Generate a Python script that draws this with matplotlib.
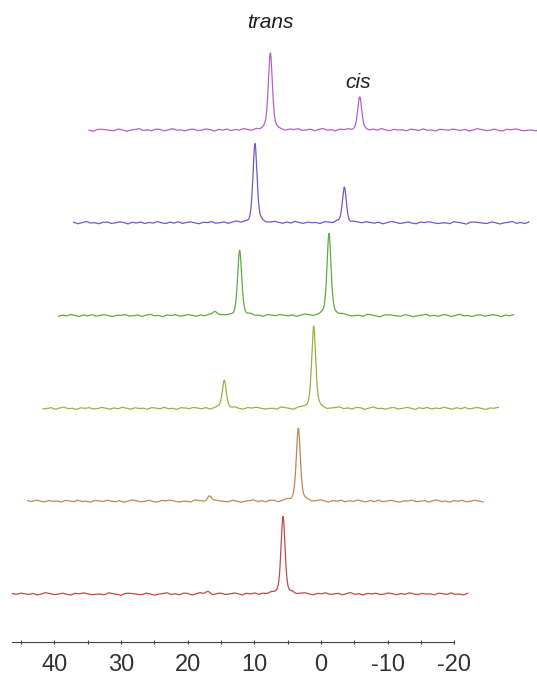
import numpy as np
import matplotlib.pyplot as plt
from matplotlib.ticker import FixedLocator

plt.rcParams['font.family'] = ['Liberation Sans', 'DejaVu Sans']
plt.rcParams['axes.unicode_minus'] = False

# peak positions (ppm) in each spectrum's own scale
trans_ppm = 19.1
cis_ppm = 5.7
# relative peak heights, bottom spectrum first
cis_height = [0.93, 0.89, 1.00, 1.00, 0.43, 0.39]
trans_height = [0.00, 0.07, 0.34, 0.78, 0.95, 0.93]
# small extra bumps
minor_ppm = [17.0, 17.0, 17.0, 22.8, 22.8, 22.8]
minor_height = [0.03, 0.00, 0.00, 0.05, 0.00, 0.00]
colors = ['#bf4a4f', '#b98a55', '#a2ae3c', '#63a843', '#7656c6', '#b360cc']

# baseline ripple (px-ish units)
ripple = [0.4, -0.3, 0.9, 0.2, -0.5, 0.6, -1.1, 0.1, 1.3, 0.5,
          -0.7, -0.2, 0.9, -0.4, -1.0, 0.7, 0.2, 1.1, 0.3, -0.8,
          -0.2, 0.0, -0.9, 1.2, 0.5, -0.3, -1.3, 0.6, 0.8, 0.2,
          -0.4, -0.7, 0.9, 0.1, -1.2, -0.1, 0.4, 1.3, -0.5, 0.3,
          -0.8, 0.9, 0.6, -1.0, 0.2, 1.4, -0.2, 0.1, -0.9, 0.5,
          0.8, -0.6, -0.1, 1.0, 0.3, -1.1, 0.6, -0.2, 0.9, -0.7,
          0.4, -0.3, 1.2, 0.0, -0.8, 0.7, -0.4, 1.0, -0.6, 0.3,
          0.9, -0.2, -1.0, 0.4, 0.1, 1.1, -0.5, -0.1, 0.7, -0.9,
          0.5, 1.3, -0.3, 0.2, -1.1, 0.6, 0.0, 0.8, -0.6, -0.2,
          1.0, 0.3, -0.8, 0.5, -0.4, 1.2, 0.1, -0.7, 0.6, -0.1,
          0.2, -0.9, 0.8, 0.4, -0.5, 1.1, -0.3, 0.0, -1.0, 0.7]

ppm_start, ppm_end = 46.3, -22.0
dx = 2.3      # horizontal stagger per spectrum (ppm)
dy = 92.8     # vertical stagger per spectrum
scale = 83.0  # height of a peak with relative height 1
hw = 0.36     # half width at half height (ppm)
eta = 0.45    # lorentzian share of the line shape


def line(x, x0, h):
    lor = hw**2 / ((x - x0)**2 + hw**2)
    gau = np.exp(-np.log(2) * ((x - x0) / hw) ** 2)
    return h * (eta * lor + (1 - eta) * gau)


fig = plt.figure(figsize=(5.37, 6.78), dpi=100)
ax = fig.add_axes([0, 36 / 678, 1, 642 / 678])

x = np.arange(ppm_start, ppm_end - 0.001, -0.05)
rip_x = np.linspace(ppm_start, ppm_end, len(ripple))
for k, col in enumerate(colors):
    base = np.interp(x[::-1], rip_x[::-1], np.roll(ripple, 17 * k)[::-1])[::-1]
    sig = (line(x, cis_ppm, cis_height[k]) + line(x, trans_ppm, trans_height[k])
           + minor_height[k] * np.exp(-((x - minor_ppm[k]) / 0.5) ** 2))
    ax.plot(x - k * dx, k * dy + scale * sig + base, color=col, lw=0.9)

ax.text(7.65, 572, 'trans', style='italic', fontsize=15, color='#1e1e1e',
        ha='center', va='center')
ax.text(-5.55, 511, 'cis', style='italic', fontsize=15, color='#1e1e1e',
        ha='center', va='center')

ax.set_xlim(48.15, -32.4)
ax.set_ylim(-48, 594)
for s in ['left', 'right', 'top']:
    ax.spines[s].set_visible(False)
ax.spines['bottom'].set_bounds(-20, 46.4)
ax.spines['bottom'].set_color('#444444')
ax.set_yticks([])
ax.xaxis.set_major_locator(FixedLocator([40, 30, 20, 10, 0, -10, -20]))
ax.xaxis.set_minor_locator(FixedLocator([45, 35, 25, 15, 5, -5, -15]))
ax.tick_params(axis='x', which='both', direction='inout', length=3, width=0.8,
               color='#444444', labelsize=17, labelcolor='#333333', pad=7)

fig.savefig('out.png', dpi=100)
